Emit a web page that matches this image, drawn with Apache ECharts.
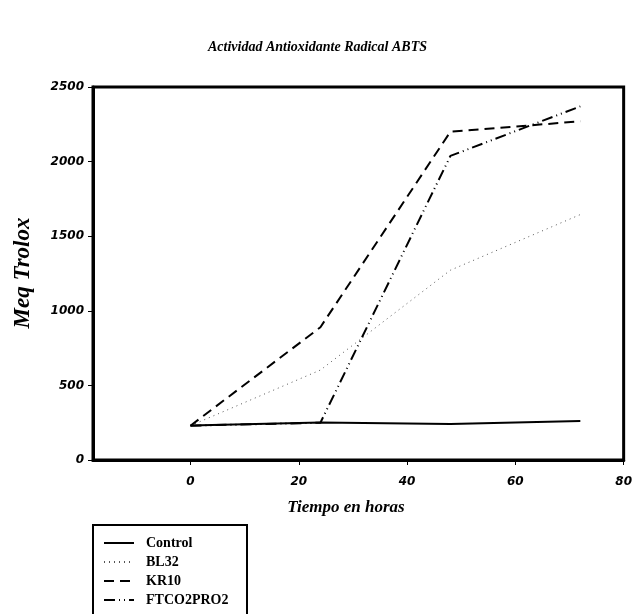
<!DOCTYPE html>
<html><head><meta charset="utf-8">
<script src="https://cdn.jsdelivr.net/npm/echarts@6/dist/echarts.min.js"></script>
<style>html,body{margin:0;padding:0;background:#fff}#c{width:635px;height:614px}</style>
</head><body><div id="c"></div>
<script>
const hours = [0, 24, 48, 72];
const control = [232, 252, 242, 262];
const bl32 = [230, 603, 1272, 1645];
const kr10 = [230, 890, 2200, 2270];
const ftco2pro2 = [230, 250, 2038, 2370];
const xTicks = [0, 20, 40, 60, 80];
const seriesNames = ['Control', 'BL32', 'KR10', 'FTCO2PRO2'];

const pts = arr => hours.map((h, i) => [h, arr[i]]);
const chart = echarts.init(document.getElementById('c'), null, {renderer: 'canvas'});
const serif = '"Liberation Serif", "Times New Roman", serif';
const sans = '"DejaVu Sans", "Liberation Sans", Arial, sans-serif';
chart.setOption({
  animation: false,
  backgroundColor: '#fff',
  title: {
    text: 'Actividad Antioxidante Radical ABTS',
    left: 'center', top: 35,
    textStyle: {fontFamily: serif, fontStyle: 'italic', fontWeight: 'bold', fontSize: 14, color: '#000'}
  },
  grid: {left: 93, right: 9, top: 87, bottom: 154, show: true, borderColor: '#000', borderWidth: 3, backgroundColor: 'transparent'},
  xAxis: {
    type: 'value', min: -18, max: 80,
    splitLine: {show: false},
    axisLine: {show: true, onZero: false, lineStyle: {color: '#000', width: 3}},
    axisTick: {show: true, customValues: xTicks, length: 5, lineStyle: {color: '#000', width: 1}},
    axisLabel: {customValues: xTicks, margin: 16, fontFamily: sans, fontStyle: 'italic', fontWeight: 'bold', fontSize: 12, color: '#000'}
  },
  yAxis: {
    type: 'value', min: 0, max: 2500, interval: 500,
    splitLine: {show: false},
    axisLine: {show: true, onZero: false, lineStyle: {color: '#000', width: 3}},
    axisTick: {show: true, length: 5, lineStyle: {color: '#000', width: 1}},
    axisLabel: {margin: 9, formatter: v => String(v), fontFamily: sans, fontStyle: 'italic', fontWeight: 'bold', fontSize: 12, color: '#000'}
  },
  graphic: [
    {type: 'text', x: 23, y: 273, rotation: Math.PI / 2,
     style: {text: 'Meq Trolox', textAlign: 'center', textVerticalAlign: 'middle', fontFamily: serif, fontStyle: 'italic', fontWeight: 'bold', fontSize: 23, fill: '#000'}},
    {type: 'text', x: 346, y: 508,
     style: {text: 'Tiempo en horas', textAlign: 'center', textVerticalAlign: 'middle', fontFamily: serif, fontStyle: 'italic', fontWeight: 'bold', fontSize: 17, fill: '#000'}},
    {type: 'rect', shape: {x: 93, y: 525, width: 154, height: 100},
     style: {fill: 'none', stroke: '#000', lineWidth: 2}}
  ],
  legend: {
    orient: 'vertical', left: 93, top: 525,
    data: seriesNames,
    padding: [11, 12, 0, 10],
    itemGap: 5, itemWidth: 30, itemHeight: 12,
    itemStyle: {color: 'transparent', borderWidth: 0, opacity: 0},
    textStyle: {fontFamily: serif, fontWeight: 'bold', fontSize: 14, color: '#000', lineHeight: 14, padding: [0, 0, 0, 7]}
  },
  series: [
    {name: seriesNames[0], type: 'line', data: pts(control), symbol: 'none', lineStyle: {color: '#000', width: 2, type: 'solid'}, itemStyle: {color: '#000'}},
    {name: seriesNames[1], type: 'line', data: pts(bl32), symbol: 'none', lineStyle: {color: '#555', width: 1, type: [1, 4]}, itemStyle: {color: '#555'}},
    {name: seriesNames[2], type: 'line', data: pts(kr10), symbol: 'none', lineStyle: {color: '#000', width: 2, type: [10, 6]}, itemStyle: {color: '#000'}},
    {name: seriesNames[3], type: 'line', data: pts(ftco2pro2), symbol: 'none', lineStyle: {color: '#000', width: 2, type: [11, 4, 1, 4, 1, 4]}, itemStyle: {color: '#000'}}
  ]
});
</script></body></html>
